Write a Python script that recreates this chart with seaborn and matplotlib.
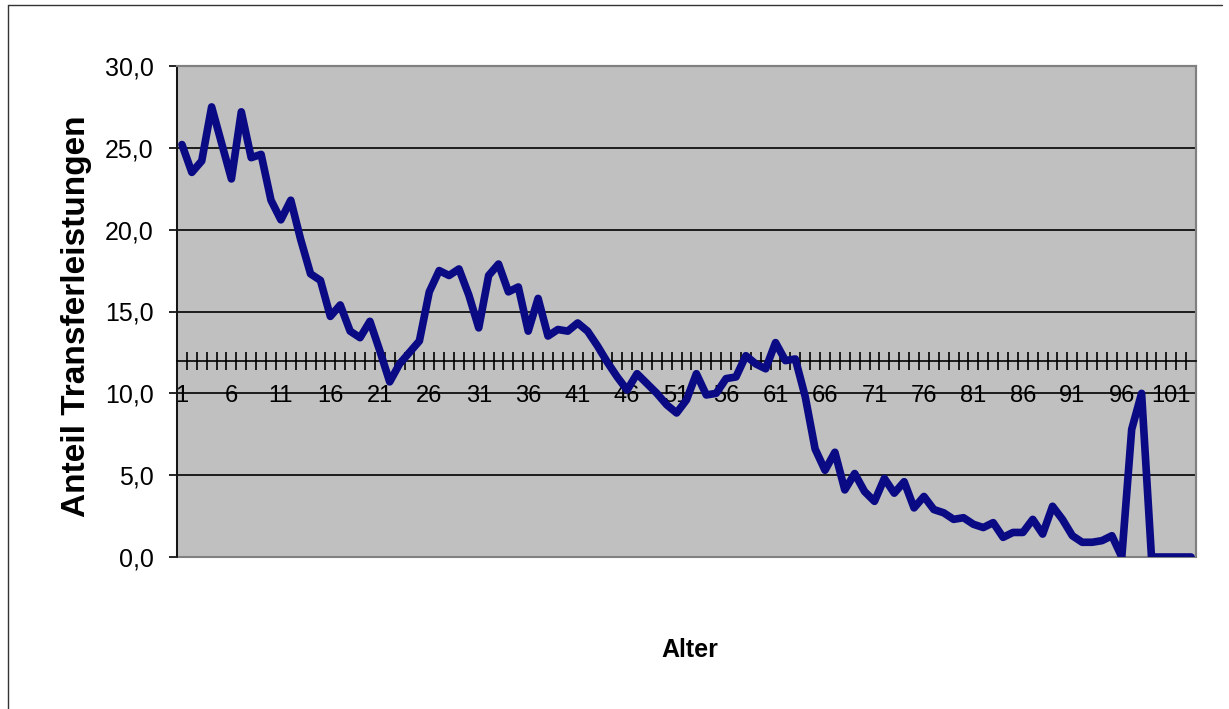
import numpy as np
import pandas as pd
import matplotlib
matplotlib.use("Agg")
import matplotlib.pyplot as plt
import seaborn as sns
from matplotlib.ticker import FixedLocator, FixedFormatter
from matplotlib.patches import Rectangle
from matplotlib.lines import Line2D

# ---------------- data ----------------
ages = list(range(1, 104))
values = [
    25.2, 23.5, 24.2, 27.5, 25.3, 23.1, 27.2, 24.4, 24.6, 21.8,   # 1-10
    20.6, 21.8, 19.4, 17.3, 16.9, 14.7, 15.4, 13.8, 13.4, 14.4,   # 11-20
    12.6, 10.7, 11.8, 12.5, 13.2, 16.2, 17.5, 17.2, 17.6, 16.0,   # 21-30
    14.0, 17.2, 17.9, 16.2, 16.5, 13.8, 15.8, 13.5, 13.9, 13.8,   # 31-40
    14.3, 13.8, 12.9, 11.9, 11.0, 10.2, 11.2, 10.6, 10.0, 9.3,    # 41-50
    8.8, 9.6, 11.2, 9.9, 10.0, 10.9, 11.0, 12.3, 11.8, 11.5,      # 51-60
    13.1, 12.0, 12.1, 9.8, 6.6, 5.3, 6.4, 4.1, 5.1, 4.0,          # 61-70
    3.4, 4.8, 3.9, 4.6, 3.0, 3.7, 2.9, 2.7, 2.3, 2.4,             # 71-80
    2.0, 1.8, 2.1, 1.2, 1.5, 1.5, 2.3, 1.4, 3.1, 2.3,             # 81-90
    1.3, 0.9, 0.9, 1.0, 1.3, 0.0, 7.8, 10.0, 0.0, 0.0,            # 91-100
    0.0, 0.0, 0.0,                                                # 101-103
]
x_tick_ages = list(range(1, 102, 5))
x_tick_labels = [str(a) for a in x_tick_ages]
y_ticks = [0, 5, 10, 15, 20, 25, 30]
y_tick_labels = ["0,0", "5,0", "10,0", "15,0", "20,0", "25,0", "30,0"]
axis_cross = 11.95
x_title = "Alter"
y_title = "Anteil Transferleistungen"

df = pd.DataFrame({"Alter": ages, "Anteil": values})

# ---------------- style ----------------
sns.set_theme(style="white")
plt.rcParams["font.family"] = ["Liberation Sans", "DejaVu Sans"]

fig = plt.figure(figsize=(12.29, 7.09), dpi=100)
ax = fig.add_axes([177 / 1229, 1 - 557 / 709, 1019 / 1229, 491 / 709])

sns.lineplot(data=df, x="Alter", y="Anteil", color="#0a0a85", linewidth=5.5,
             ax=ax, zorder=3, solid_joinstyle="round", solid_capstyle="round")

ax.set_xlim(ages[0] - 0.5, ages[-1] + 0.5)
ax.set_ylim(y_ticks[0], y_ticks[-1])
ax.set_facecolor("#c0c0c0")
ax.set_axisbelow(True)

# y axis
ax.yaxis.set_major_locator(FixedLocator(y_ticks))
ax.yaxis.set_major_formatter(FixedFormatter(y_tick_labels))
ax.tick_params(axis="y", which="major", direction="out", length=6, width=1.2,
               color="black", labelsize=18, pad=11, labelcolor="black", left=True)
ax.grid(axis="y", color="black", linewidth=1.2)
ax.grid(axis="x", visible=False)

# x axis crossing at axis_cross
ax.spines["bottom"].set_position(("data", axis_cross))
ax.spines["bottom"].set_color("black")
ax.spines["bottom"].set_linewidth(1.2)
ax.spines["bottom"].set_zorder(2.5)
ax.xaxis.set_major_locator(FixedLocator(x_tick_ages))
ax.xaxis.set_major_formatter(FixedFormatter(x_tick_labels))
boundaries = [a - 0.5 for a in ages] + [ages[-1] + 0.5]
ax.xaxis.set_minor_locator(FixedLocator(boundaries))
ax.tick_params(axis="x", which="major", length=0, labelsize=17, pad=17,
               labelcolor="black", bottom=True)
ax.tick_params(axis="x", which="minor", direction="inout", length=13,
               width=1.2, color="black", bottom=True)

ax.spines["left"].set_color("black")
ax.spines["left"].set_linewidth(1.2)
for s in ("top", "right"):
    ax.spines[s].set_color("#808080")
    ax.spines[s].set_linewidth(1.5)
ax.add_patch(Rectangle((0, 0), 1, 1, transform=ax.transAxes, fill=False,
                       edgecolor="#808080", linewidth=1.5, zorder=2.4,
                       clip_on=False))

ax.set_xlabel(x_title, fontsize=18, fontweight="bold", color="black")
ax.xaxis.set_label_coords(0.503, -0.165)
ax.set_ylabel(y_title, fontsize=24, fontweight="bold", color="black")
ax.yaxis.set_label_coords(-0.083, 0.49)

# outer chart border (left and top)
fig.add_artist(Line2D([8 / 1229, 8 / 1229], [0, 1 - 5 / 709],
                      transform=fig.transFigure, color="#333333", linewidth=1))
fig.add_artist(Line2D([8 / 1229, 1222 / 1229], [1 - 5 / 709, 1 - 5 / 709],
                      transform=fig.transFigure, color="#333333", linewidth=1))

fig.savefig("out.png", dpi=100, facecolor="white")
